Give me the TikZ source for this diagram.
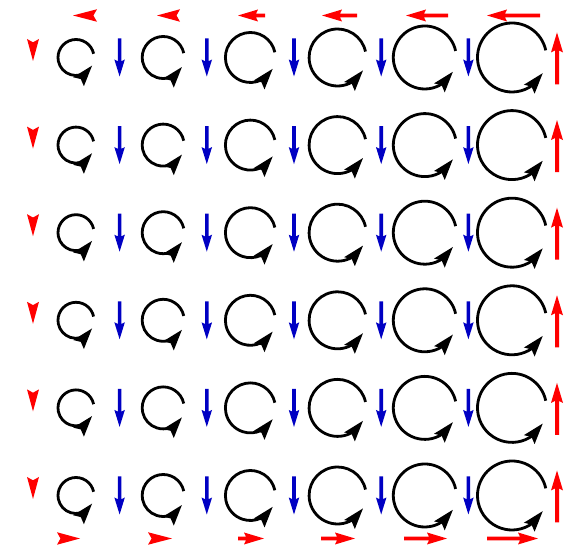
\documentclass[tikz,border=0pt]{standalone}
\usetikzlibrary{calc}
\definecolor{qred}{RGB}{255,0,0}
\definecolor{qblue}{RGB}{0,0,195}
% quiver arrow: #1 start, #2 angle, #3 length, #4 shaft w, #5 head length, #6 head width, #7 colour
\newcommand\qarr[7]{%
  \begin{scope}[shift={#1}, rotate=#2]
    \fill[#7] (0,-#4/2) -- ({#3-0.9*#5},-#4/2) -- ({#3-#5},-#6/2) -- (#3,0)
      -- ({#3-#5},#6/2) -- ({#3-0.9*#5},#4/2) -- (0,#4/2) -- cycle;
  \end{scope}}
% head only: #1 start (back), #2 angle, #3 length, #4 width, #5 colour
\newcommand\qhead[5]{%
  \begin{scope}[shift={#1}, rotate=#2]
    \fill[#5] (0,-#4/2) -- (#3,0) -- (0,#4/2) -- ({0.15*#3},0) -- cycle;
  \end{scope}}
\begin{document}
\begin{tikzpicture}[x=1pt,y=1pt]
\useasboundingbox (0,0) rectangle (574,548);
% circular arrows
\foreach \r [count=\i from 0] in {18,21,25,28.5,31.5,34.5} {
  \foreach \j in {0,...,5} {
    \pgfmathsetmacro\cx{76+87.2*\i}
    \pgfmathsetmacro\cy{490.5-87.6*\j}
    \pgfmathsetmacro\bxx{\r*cos(-27)-19*cos(50)}
    \pgfmathsetmacro\byy{\r*sin(-27)-19*sin(50)}
    \pgfmathsetmacro\enda{360+atan2(\byy,\bxx)+4}
    \draw[line width=2.8pt] ({\cx+\r*cos(12)},{\cy+\r*sin(12)})
      arc[start angle=12, end angle=\enda, radius=\r];
    \begin{scope}[shift={({\cx+\r*cos(-27)},{\cy+\r*sin(-27)})}, rotate=50]
      \fill (0,0) -- (-21,-7) -- (-17.5,0) -- (-21,7) -- cycle;
    \end{scope}
  }
}
% blue arrows between columns
\foreach \i in {0,...,4} {
  \foreach \j in {0,...,5} {
    \pgfmathsetmacro\bx{76+87.2*(\i+0.5)}
    \pgfmathsetmacro\by{490.5-87.6*\j+19}
    \qarr{(\bx,\by)}{-90}{38}{3.6}{17}{10.5}{qblue}
  }
}
% left red markers
\foreach \j in {0,...,5} {
  \pgfmathsetmacro\ly{490.5-87.6*\j+18.5}
  \qhead{(33,\ly)}{-90}{22}{12}{qred}
}
% right red arrows
\foreach \j in {0,...,5} {
  \pgfmathsetmacro\ry{490.5-87.6*\j-27}
  \qarr{(557,\ry)}{90}{52}{4}{20}{12}{qred}
}
% top red arrows (pointing left)
\qhead{(97,532.5)}{180}{24}{12.5}{qred}
\qhead{(180,532.5)}{180}{23}{12.5}{qred}
\qarr{(265,532.5)}{180}{27}{3.8}{20}{12}{qred}
\qarr{(357,532.5)}{180}{35}{3.8}{20}{12}{qred}
\qarr{(448,532.5)}{180}{42}{3.8}{20}{12}{qred}
\qarr{(540,532.5)}{180}{53}{3.8}{20}{12}{qred}
% bottom red arrows (pointing right)
\qhead{(57,9.5)}{0}{23}{12.5}{qred}
\qhead{(148,9.5)}{0}{24}{12.5}{qred}
\qarr{(238,9.5)}{0}{26}{3.8}{20}{12}{qred}
\qarr{(321,9.5)}{0}{34}{3.8}{20}{12}{qred}
\qarr{(404,9.5)}{0}{43}{3.8}{20}{12}{qred}
\qarr{(487,9.5)}{0}{51}{3.8}{20}{12}{qred}
\end{tikzpicture}
\end{document}
